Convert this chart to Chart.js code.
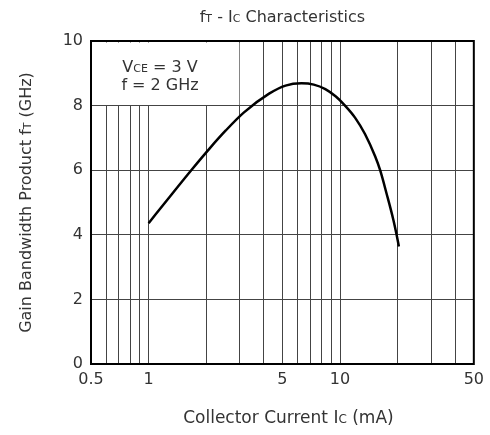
<!DOCTYPE html>
<html>
<head>
<meta charset="utf-8">
<script src="https://cdn.jsdelivr.net/npm/chart.js@4/dist/chart.umd.min.js"></script>
<style>
  html, body { margin: 0; padding: 0; background: #fff; }
  #wrap { width: 490px; height: 435px; }
</style>
</head>
<body>
<div id="wrap"><canvas id="chart" width="490" height="435"></canvas></div>
<script>
// fT - Ic curve
const currentMA = [1.0, 1.29, 1.67, 2.08, 2.53, 3.15, 4.26, 5.19, 6.29, 7.29, 8.38, 9.51, 10.5, 12.0, 13.5, 15.25, 16.2, 17.5, 19.0, 19.75, 20.3];
const gainGHz = [4.36, 5.18, 6.0, 6.67, 7.23, 7.79, 8.37, 8.62, 8.69, 8.65, 8.51, 8.28, 8.03, 7.62, 7.12, 6.43, 6.0, 5.28, 4.46, 4.0, 3.64];

const xGridTicks = [0.5, 0.6, 0.7, 0.8, 0.9, 1, 2, 3, 4, 5, 6, 7, 8, 9, 10, 20, 30, 40, 50];
const xTickLabels = [0.5, 1, 5, 10, 50];

const FONT = "'DejaVu Sans', sans-serif";
const TEXT = "#333";

// draw text with small "subscript" parts sitting on the baseline
function drawRich(ctx, parts, x, y, size) {
  const small = Math.round(size * 0.68);
  let total = 0;
  parts.forEach(([t, s]) => {
    ctx.font = (s ? small : size) + "px " + FONT;
    total += ctx.measureText(t).width;
  });
  let cx = x - total / 2;
  ctx.textAlign = "left";
  ctx.textBaseline = "alphabetic";
  ctx.fillStyle = TEXT;
  parts.forEach(([t, s]) => {
    ctx.font = (s ? small : size) + "px " + FONT;
    ctx.fillText(t, cx, y);
    cx += ctx.measureText(t).width;
  });
}

const decorPlugin = {
  id: "decor",
  beforeDatasetsDraw(chart) {
    const { ctx, scales: { x, y }, chartArea } = chart;
    // blank box for the conditions note
    ctx.save();
    ctx.fillStyle = "#fff";
    const x0 = chartArea.left + 1.5, x1 = x.getPixelForValue(3) - 0.6;
    const y0 = chartArea.top + 1.5, y1 = y.getPixelForValue(8) - 0.6;
    ctx.fillRect(x0, y0, x1 - x0, y1 - y0);
    const cx = x0 + (x1 - x0) * 0.46;
    drawRich(ctx, [["V", false], ["CE", true], [" = 3 V", false]], cx, y.getPixelForValue(9.04), 16);
    drawRich(ctx, [["f = 2 GHz", false]], cx, y.getPixelForValue(8.48), 16);
    ctx.restore();
  },
  afterDraw(chart) {
    const { ctx, chartArea } = chart;
    ctx.save();
    ctx.strokeStyle = "#000";
    ctx.lineWidth = 2;
    ctx.strokeRect(chartArea.left, chartArea.top, chartArea.right - chartArea.left, chartArea.bottom - chartArea.top);
    const midX = (chartArea.left + chartArea.right) / 2;
    drawRich(ctx, [["f", false], ["T", true], [" - I", false], ["C", true], [" Characteristics", false]], midX, 22, 16);
    drawRich(ctx, [["Collector Current I", false], ["C", true], [" (mA)", false]], midX + 6, 423, 17);
    ctx.translate(31, (chartArea.top + chartArea.bottom) / 2);
    ctx.rotate(-Math.PI / 2);
    drawRich(ctx, [["Gain Bandwidth Product f", false], ["T", true], [" (GHz)", false]], 0, 0, 16);
    ctx.restore();
  }
};

new Chart(document.getElementById("chart"), {
  type: "line",
  data: {
    datasets: [{
      data: currentMA.map((v, i) => ({ x: v, y: gainGHz[i] })),
      borderColor: "#000",
      borderWidth: 2.5,
      pointRadius: 0,
      cubicInterpolationMode: "monotone",
      fill: false
    }]
  },
  options: {
    responsive: false,
    animation: false,
    layout: { padding: { top: 41, right: 14, left: 0, bottom: 0 } },
    plugins: { legend: { display: false }, tooltip: { enabled: false } },
    scales: {
      x: {
        type: "logarithmic",
        min: 0.5,
        max: 50,
        afterBuildTicks: (s) => { s.ticks = xGridTicks.map(v => ({ value: v })); },
        afterFit: (s) => { s.height = 71; },
        ticks: {
          autoSkip: false,
          maxRotation: 0,
          padding: 6,
          color: TEXT,
          font: { family: FONT, size: 16 },
          callback: (v) => xTickLabels.includes(v) ? String(v) : ""
        },
        grid: { color: "#444", lineWidth: 1, drawTicks: false },
        border: { color: "#000", width: 2 }
      },
      y: {
        min: 0,
        max: 10,
        afterFit: (s) => { s.width = 91; },
        ticks: {
          stepSize: 2,
          padding: 8,
          color: TEXT,
          font: { family: FONT, size: 16 }
        },
        grid: { color: "#444", lineWidth: 1, drawTicks: false },
        border: { color: "#000", width: 2 }
      }
    }
  },
  plugins: [decorPlugin]
});
</script>
</body>
</html>
